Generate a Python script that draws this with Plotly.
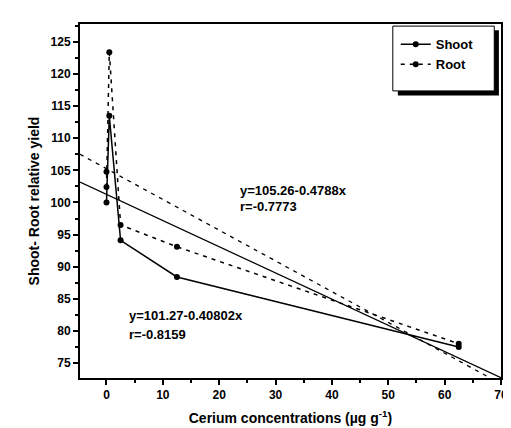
import plotly.graph_objects as go

# Data
conc = [0, 0.5, 2.5, 12.5, 62.5]
shoot = [100.0, 113.5, 94.1, 88.4, 77.5]
root = [102.4, 123.4, 96.5, 93.1, 78.0]
root_extra_x = [0]
root_extra_y = [104.8]

# Regression fits (from chart annotations)
shoot_fit = (101.27, -0.40802)
root_fit = (105.26, -0.4788)
fit_x = [-4.7, 70]

x_ticks = [0, 10, 20, 30, 40, 50, 60, 70]
y_ticks = [75, 80, 85, 90, 95, 100, 105, 110, 115, 120, 125]

FONT = "Liberation Sans"
DASH = "4px,5px"

fig = go.Figure()

# fit lines
fig.add_trace(go.Scatter(x=fit_x, y=[shoot_fit[0] + shoot_fit[1] * v for v in fit_x],
                         mode="lines", line=dict(color="black", width=1.3),
                         showlegend=False, hoverinfo="skip"))
fig.add_trace(go.Scatter(x=fit_x, y=[root_fit[0] + root_fit[1] * v for v in fit_x],
                         mode="lines", line=dict(color="black", width=1.3, dash=DASH),
                         showlegend=False, hoverinfo="skip"))

# data series
fig.add_trace(go.Scatter(x=conc, y=shoot, name="<b>Shoot</b>", mode="lines+markers",
                         line=dict(color="black", width=1.5),
                         marker=dict(color="black", size=6, symbol="circle")))
fig.add_trace(go.Scatter(x=conc, y=root, name="<b>Root</b>", mode="lines+markers",
                         line=dict(color="black", width=1.5, dash=DASH),
                         marker=dict(color="black", size=6, symbol="circle")))
fig.add_trace(go.Scatter(x=root_extra_x, y=root_extra_y, mode="markers",
                         marker=dict(color="black", size=6), showlegend=False))

# legend box with shadow
fig.add_shape(type="rect", xref="paper", yref="paper", x0=0.755, x1=0.995,
              y0=0.798, y1=0.982, fillcolor="black", line=dict(width=0), layer="above")
fig.add_shape(type="rect", xref="paper", yref="paper", x0=0.743, x1=0.984,
              y0=0.811, y1=0.994, fillcolor="white", line=dict(color="black", width=1),
              layer="above")

# annotations
ann_font = dict(family=FONT, size=13, color="black")
fig.add_annotation(text="<b>y=105.26-0.4788x</b>", xref="paper", yref="paper",
                   x=(233 - 72) / 428, y=1 - (183 - 16) / 354, xanchor="left", yanchor="middle",
                   showarrow=False, font=ann_font)
fig.add_annotation(text="<b>r=-0.7773</b>", xref="paper", yref="paper",
                   x=(233 - 72) / 428, y=1 - (198 - 16) / 354, xanchor="left", yanchor="middle",
                   showarrow=False, font=ann_font)
fig.add_annotation(text="<b>y=101.27-0.40802x</b>", xref="paper", yref="paper",
                   x=(120 - 72) / 428, y=1 - (307 - 16) / 354, xanchor="left", yanchor="middle",
                   showarrow=False, font=ann_font)
fig.add_annotation(text="<b>r=-0.8159</b>", xref="paper", yref="paper",
                   x=(120 - 72) / 428, y=1 - (326 - 16) / 354, xanchor="left", yanchor="middle",
                   showarrow=False, font=ann_font)

fig.update_layout(
    width=511, height=428,
    margin=dict(l=72, r=11, t=16, b=58),
    paper_bgcolor="white", plot_bgcolor="white",
    font=dict(family=FONT, size=12, color="black"),
    legend=dict(x=0.75, y=0.985, xanchor="left", yanchor="top",
                bgcolor="rgba(0,0,0,0)", borderwidth=0,
                font=dict(family=FONT, size=13, color="black"),
                itemwidth=30, tracegroupgap=0),
    showlegend=True,
)
fig.update_xaxes(range=[-4.7, 70], tickvals=x_ticks, ticktext=[f"<b>{v}</b>" for v in x_ticks],
                 tickfont=dict(size=12),
                 ticks="outside", ticklen=5, tickwidth=1.5, tickcolor="black",
                 minor=dict(ticks="outside", ticklen=3, dtick=5, tick0=0, tickcolor="black"),
                 showline=True, linewidth=2, linecolor="black", mirror=True,
                 showgrid=False, zeroline=False,
                 title=dict(text="<b>Cerium concentrations (µg g<sup>-1</sup>)</b>",
                            font=dict(family=FONT, size=14), standoff=12))
fig.update_yaxes(range=[72.66, 127.8], tickvals=y_ticks, ticktext=[f"<b>{v}</b>" for v in y_ticks],
                 tickfont=dict(size=12),
                 ticks="outside", ticklen=5, tickwidth=1.5, tickcolor="black",
                 minor=dict(ticks="outside", ticklen=3, dtick=2.5, tick0=0, tickcolor="black"),
                 showline=True, linewidth=2, linecolor="black", mirror=True,
                 showgrid=False, zeroline=False,
                 title=dict(text="<b>Shoot- Root relative yield</b>",
                            font=dict(family=FONT, size=14), standoff=8))

fig.write_html("out.html")
